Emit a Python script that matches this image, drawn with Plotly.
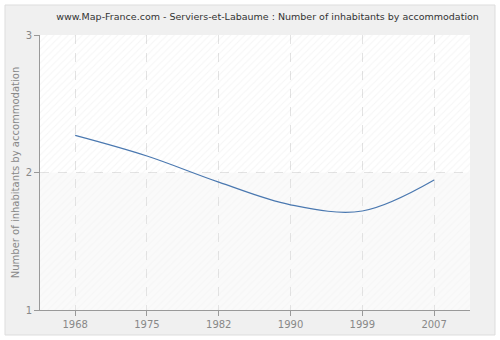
import plotly.graph_objects as go

years = ["1968", "1975", "1982", "1990", "1999", "2007"]
values = [2.27, 2.12, 1.93, 1.765, 1.72, 1.945]
y_ticks = [1, 2, 3]

W, H = 500, 340
L, R, T, B = 40, 30, 35, 30
x_lo, x_hi = -0.49, len(years) - 0.5
y_lo, y_hi = y_ticks[0], y_ticks[-1]
mid = y_ticks[1]

fig = go.Figure()

# background hatch bands (translucent so the grid stays visible)
for (a, b, fg) in [(mid, y_hi, "rgba(0,0,0,0.07)"), (y_lo, mid, "rgba(0,0,0,0.035)")]:
    fig.add_trace(go.Scatter(
        x=[x_lo, x_hi, x_hi, x_lo, x_lo], y=[a, a, b, b, a],
        fill="toself", mode="none", hoverinfo="skip", showlegend=False,
        fillcolor="rgba(0,0,0,0)",
        fillpattern=dict(shape="/", fgcolor=fg, bgcolor="rgba(0,0,0,0)", size=5, solidity=0.2),
    ))

fig.add_trace(go.Scatter(
    x=list(range(len(years))), y=values, mode="lines",
    line=dict(color="#4a78b0", width=1.2, shape="spline", smoothing=1.0),
    showlegend=False,
))

pw = W - L - R
ph = H - T - B
fig.add_shape(type="rect", xref="paper", yref="paper",
              x0=-(L - 5) / pw, x1=1 + (R - 5) / pw,
              y0=-(B - 5) / ph, y1=1 + (T - 5) / ph,
              line=dict(color="#dddddd", width=1), fillcolor="#f0f0f0", layer="below")
fig.add_shape(type="rect", xref="paper", yref="paper", x0=0, x1=1, y0=0, y1=1,
              line=dict(width=0), fillcolor="#fafafa", layer="below")
fig.add_shape(type="rect", xref="paper", yref="y", x0=0, x1=1, y0=mid, y1=y_hi,
              line=dict(width=0), fillcolor="#ffffff", layer="below")

fig.update_layout(
    width=W, height=H,
    margin=dict(l=L, r=R, t=T, b=B),
    paper_bgcolor="#ffffff", plot_bgcolor="rgba(0,0,0,0)",
    font=dict(family="DejaVu Sans", size=10, color="#888888"),
    title=dict(text="www.Map-France.com - Serviers-et-Labaume : Number of inhabitants by accommodation",
               x=0.535, xanchor="center", y=1 - 17 / H, yanchor="middle",
               font=dict(size=9.5, color="#333333")),
    xaxis=dict(range=[x_lo, x_hi], tickmode="array", tickvals=list(range(len(years))),
               ticktext=years, showgrid=True, gridcolor="#e3e3e3", griddash="dash",
               showline=True, linecolor="#999999", ticks="outside", ticklen=5,
               tickcolor="#999999", zeroline=False, fixedrange=True, automargin=False),
    yaxis=dict(range=[y_lo, y_hi], tickvals=y_ticks, showgrid=True, gridcolor="#e3e3e3",
               griddash="dash", showline=True, linecolor="#999999", ticks="outside",
               ticklen=5, tickcolor="#999999", zeroline=False, automargin=False,
               title=dict(text="Number of inhabitants by accommodation", standoff=4,
                          font=dict(size=10, color="#888888"))),
)

fig.write_html("out.html", config={"displayModeBar": False},
               post_script="document.body.style.margin='0';")
